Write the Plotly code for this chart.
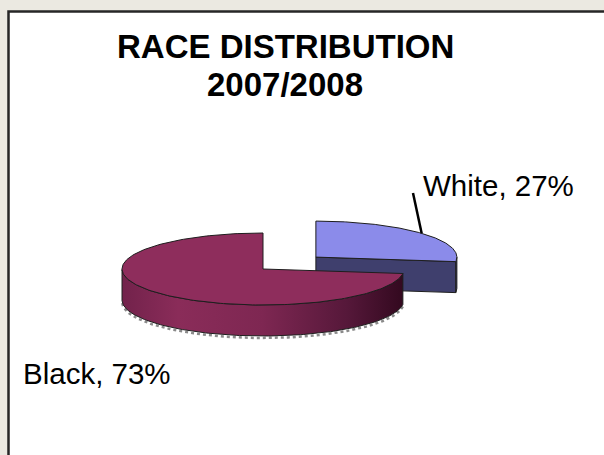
import numpy as np
import plotly.graph_objects as go

# ---- data ----
categories = ["White", "Black"]
values = [27, 73]
title_lines = ["RACE DISTRIBUTION", "2007/2008"]

# ---- styles ----
top_colors = ["#8B8BEA", "#8E2D5C"]
side_colors = ["#3F3F6D", None]
black_side_scale = [[0, "#72224B"], [0.2, "#8A2C59"], [0.5, "#7E2752"],
                    [0.8, "#56183A"], [1, "#33091F"]]
pulls = [0.5, 0.0]
CX, CY, RX, RY, DEPTH = 263, 269, 141, 36, 31
START = 90.0
W, H = 604, 455
FONT = "Liberation Sans"

fig = go.Figure()

total = float(sum(values))
cum = np.concatenate([[0], np.cumsum(values)]) / total
edge_col = "#1E1E1E"


def ell(theta_deg, cx, cy, dz=0.0):
    t = np.radians(theta_deg)
    return cx + RX * np.cos(t), cy - RY * np.sin(t) + dz


slice_geo = []
for i, v in enumerate(values):
    a0 = START - 360 * cum[i]
    a1 = START - 360 * cum[i + 1]
    mid = (a0 + a1) / 2
    cx = CX + pulls[i] * RX * np.cos(np.radians(mid))
    cy = CY - pulls[i] * RY * np.sin(np.radians(mid))
    slice_geo.append((a0, a1, mid, cx, cy))

# draw far slice (White) first, then the near one (Black)
for i in [0, 1]:
    a0, a1, mid, cx, cy = slice_geo[i]
    th = np.linspace(a0, a1, 200)
    # radial cut faces
    for ae, normal in [(a0, a0 + 90), (a1, a1 - 90)]:
        if np.sin(np.radians(normal)) < -0.05:
            ex, ey = ell(ae, cx, cy)
            fig.add_trace(go.Scatter(
                x=[cx, ex, ex, cx, cx], y=[cy, ey, ey + DEPTH, cy + DEPTH, cy],
                mode="lines", fill="toself",
                fillcolor=side_colors[i] or "#5a1a3a",
                line=dict(color=edge_col, width=1), hoverinfo="skip"))
    # outer wall (front half only)
    front = th[np.sin(np.radians(th)) <= 0]
    if len(front) > 1:
        tx, ty = ell(front, cx, cy)
        bx, by = ell(front[::-1], cx, cy, DEPTH)
        xs = np.concatenate([tx, bx, tx[:1]])
        ys = np.concatenate([ty, by, ty[:1]])
        if i == 1:
            sx, sy = ell(front, cx, cy, DEPTH + 2)
            fig.add_trace(go.Scatter(x=sx, y=sy, mode="lines",
                                     line=dict(color="#8a8a8a", width=2.5, dash="dot"),
                                     hoverinfo="skip"))
            fig.add_trace(go.Scatter(
                x=xs, y=ys, mode="lines", fill="toself",
                fillgradient=dict(type="horizontal", colorscale=black_side_scale),
                line=dict(color=edge_col, width=1), hoverinfo="skip"))
        else:
            fig.add_trace(go.Scatter(
                x=xs, y=ys, mode="lines", fill="toself", fillcolor=side_colors[i],
                line=dict(color=edge_col, width=1), hoverinfo="skip"))
    # top face
    ax, ay = ell(th, cx, cy)
    fig.add_trace(go.Scatter(
        x=np.concatenate([[cx], ax, [cx]]), y=np.concatenate([[cy], ay, [cy]]),
        mode="lines", fill="toself", fillcolor=top_colors[i],
        line=dict(color=edge_col, width=1), hoverinfo="skip"))

# leader line for White label to the middle of its arc
a0, a1, mid, cx, cy = slice_geo[0]
mx, my = ell(mid, cx, cy)
fig.add_trace(go.Scatter(x=[413, mx], y=[193, my], mode="lines",
                         line=dict(color="black", width=2.5), hoverinfo="skip"))

# labels
label_pos = {"White": (421, 185), "Black": (21, 373)}
for name, v in zip(categories, values):
    lx, ly = label_pos[name]
    fig.add_annotation(x=lx, y=ly, xref="x", yref="y", text=f"{name}, {v}%",
                       showarrow=False, xanchor="left", yanchor="middle",
                       font=dict(family=FONT, size=29.5, color="black"))

# title
for txt, ty in zip(title_lines, [46.5, 84]):
    fig.add_annotation(x=285, y=ty, xref="x", yref="y", text=f"<b>{txt}</b>",
                       showarrow=False, xanchor="center", yanchor="middle",
                       font=dict(family=FONT, size=33, color="black"))

# frame
fig.add_shape(type="rect", x0=8.5, y0=11.5, x1=W + 20, y1=H + 20,
              xref="x", yref="y", layer="below",
              line=dict(color="#262626", width=2.5), fillcolor="white")

fig.update_layout(
    width=W, height=H, margin=dict(l=0, r=0, t=0, b=0),
    paper_bgcolor="#EBE9E1", plot_bgcolor="#EBE9E1",
    showlegend=False,
    xaxis=dict(range=[0, W], visible=False, fixedrange=True),
    yaxis=dict(range=[H, 0], visible=False, fixedrange=True),
)

fig.write_html("out.html", config={"displayModeBar": False})
